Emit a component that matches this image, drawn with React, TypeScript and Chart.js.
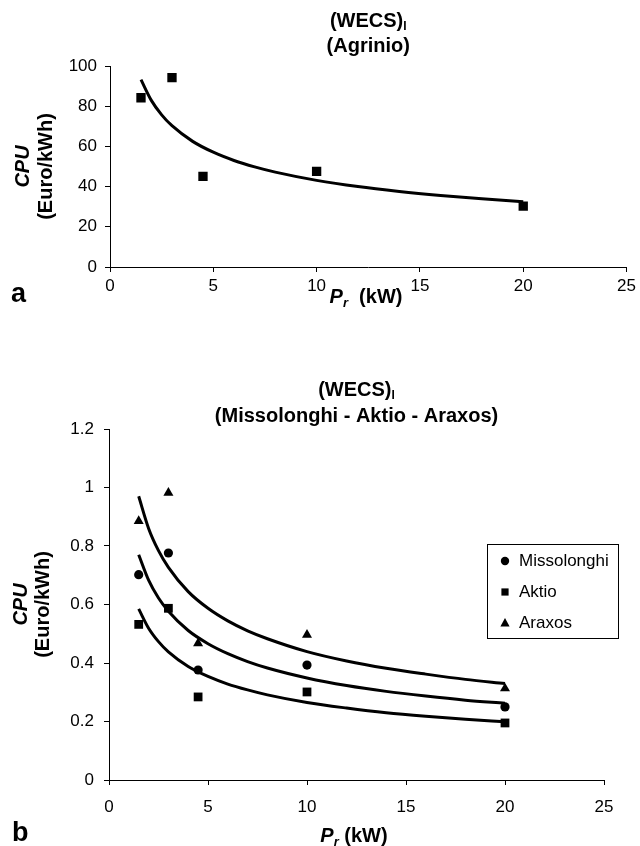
import React, { useEffect, useRef } from 'react';
import { Chart, registerables } from 'chart.js';

Chart.register(...registerables);

// ---------- data ----------
const X_TICKS = [0, 5, 10, 15, 20, 25];
const X_TICK_LABELS = ['0', '5', '10', '15', '20', '25'];
const Y_TICKS_A = [0, 20, 40, 60, 80, 100];
const Y_TICK_LABELS_A = ['0', '20', '40', '60', '80', '100'];
const Y_TICKS_B = [0, 0.2, 0.4, 0.6, 0.8, 1, 1.2];
const Y_TICK_LABELS_B = ['0', '0.2', '0.4', '0.6', '0.8', '1', '1.2'];

const PR_KW = [1.5, 3, 4.5, 10, 20];
const AGRINIO_CPU = [84.2, 94.2, 45.1, 47.6, 30.3];
const MISSOLONGHI_CPU = [0.702, 0.776, 0.376, 0.393, 0.25];
const AKTIO_CPU = [0.532, 0.587, 0.284, 0.301, 0.195];
const ARAXOS_CPU = [0.885, 0.982, 0.467, 0.496, 0.313];

// trend curves
const TREND_X = [1.5, 2, 2.5, 3, 4, 5, 6, 7, 8, 10, 12, 14, 16, 18, 20];
const AGRINIO_TREND = [93.2, 82.9, 75.7, 70.3, 62.5, 57.1, 53.0, 49.8, 47.2, 43.1, 40.0, 37.6, 35.6, 33.9, 32.5];
const ARAXOS_TREND = [0.97, 0.86, 0.784, 0.727, 0.644, 0.587, 0.544, 0.51, 0.483, 0.439, 0.407, 0.382, 0.362, 0.344, 0.33];
const MISSOLONGHI_TREND = [0.77, 0.683, 0.622, 0.577, 0.511, 0.466, 0.432, 0.405, 0.383, 0.349, 0.323, 0.303, 0.287, 0.273, 0.262];
const AKTIO_TREND = [0.585, 0.519, 0.473, 0.438, 0.388, 0.354, 0.328, 0.308, 0.291, 0.265, 0.246, 0.23, 0.218, 0.208, 0.199];

const LEGEND_NAMES = ['Missolonghi', 'Aktio', 'Araxos'];

// ---------- helpers ----------
const FAMILY = "'Liberation Sans', Arial, Helvetica, sans-serif";
const B = (s: number) => `bold ${s}px ${FAMILY}`;
const BI = (s: number) => `italic bold ${s}px ${FAMILY}`;

type Run = { text: string; font: string; dy?: number };

function drawRuns(ctx: CanvasRenderingContext2D, runs: Run[], cx: number, cy: number, align: 'center' | 'left' = 'center') {
  ctx.save();
  ctx.textBaseline = 'middle';
  ctx.textAlign = 'left';
  ctx.fillStyle = '#000';
  let w = 0;
  for (const r of runs) {
    ctx.font = r.font;
    w += ctx.measureText(r.text).width;
  }
  let x = align === 'center' ? cx - w / 2 : cx;
  for (const r of runs) {
    ctx.font = r.font;
    ctx.fillText(r.text, x, cy + (r.dy || 0));
    x += ctx.measureText(r.text).width;
  }
  ctx.restore();
}

function drawRotated(ctx: CanvasRenderingContext2D, runs: Run[], x: number, y: number) {
  ctx.save();
  ctx.translate(x, y);
  ctx.rotate(-Math.PI / 2);
  drawRuns(ctx, runs, 0, 0);
  ctx.restore();
}

const pts = (xs: number[], ys: number[]) => xs.map((x, i) => ({ x, y: ys[i] }));

function markerSet(label: string, ys: number[], style: string, r: number) {
  return {
    label,
    data: pts(PR_KW, ys),
    showLine: false,
    pointStyle: style,
    pointRadius: r,
    pointHoverRadius: r,
    backgroundColor: '#000',
    borderColor: '#000',
    borderWidth: 0,
  };
}

function trendSet(ys: number[]) {
  return {
    label: 'trend',
    data: pts(TREND_X, ys),
    showLine: true,
    pointRadius: 0,
    pointHoverRadius: 0,
    borderColor: '#000',
    borderWidth: 3,
    cubicInterpolationMode: 'monotone' as const,
    fill: false,
  };
}

function axes(yTicks: number[], yLabels: string[], yMax: number, yWidth: number, xHeight: number, yPad: number, xPad: number) {
  const common = {
    grid: { display: true, drawOnChartArea: false, drawTicks: true, tickLength: 5, color: '#000', lineWidth: 1 },
    border: { display: true, color: '#000', width: 1 },
  };
  return {
    x: {
      type: 'linear' as const,
      min: 0,
      max: 25,
      ...common,
      afterBuildTicks: (s: any) => { s.ticks = X_TICKS.map((v) => ({ value: v })); },
      afterFit: (s: any) => { s.height = xHeight; },
      ticks: {
        autoSkip: false,
        maxRotation: 0,
        padding: xPad,
        color: '#000',
        font: { family: FAMILY, size: 17 },
        callback: (_v: any, i: number) => X_TICK_LABELS[i],
      },
    },
    y: {
      type: 'linear' as const,
      min: 0,
      max: yMax,
      ...common,
      afterBuildTicks: (s: any) => { s.ticks = yTicks.map((v) => ({ value: v })); },
      afterFit: (s: any) => { s.width = yWidth; },
      ticks: {
        autoSkip: false,
        padding: yPad,
        color: '#000',
        font: { family: FAMILY, size: 17 },
        callback: (_v: any, i: number) => yLabels[i],
      },
    },
  };
}

function drawMarker(ctx: CanvasRenderingContext2D, style: string, x: number, y: number) {
  ctx.save();
  ctx.fillStyle = '#000';
  ctx.beginPath();
  if (style === 'circle') {
    ctx.arc(x, y, 4.2, 0, Math.PI * 2);
  } else if (style === 'rect') {
    ctx.rect(x - 3.6, y - 3.6, 7.2, 7.2);
  } else {
    ctx.moveTo(x, y - 5);
    ctx.lineTo(x + 4.6, y + 3.4);
    ctx.lineTo(x - 4.6, y + 3.4);
    ctx.closePath();
  }
  ctx.fill();
  ctx.restore();
}

// ---------- component ----------
export default function App() {
  const topRef = useRef<HTMLCanvasElement | null>(null);
  const botRef = useRef<HTMLCanvasElement | null>(null);

  useEffect(() => {
    const topText = {
      id: 'topText',
      afterDraw(chart: any) {
        const ctx = chart.ctx as CanvasRenderingContext2D;
        const ca = chart.chartArea;
        const cx = (ca.left + ca.right) / 2;
        const cy = (ca.top + ca.bottom) / 2;
        drawRuns(ctx, [{ text: '(WECS)', font: B(20) }, { text: 'I', font: B(12), dy: 6 }], cx, 21);
        drawRuns(ctx, [{ text: '(Agrinio)', font: B(20) }], cx, 46);
        drawRotated(ctx, [{ text: 'CPU', font: BI(20) }], 23, cy);
        drawRotated(ctx, [{ text: '(Euro/kWh)', font: B(20) }], 46, cy);
        drawRuns(ctx, [{ text: 'P', font: BI(20) }, { text: 'r', font: BI(13), dy: 6 }, { text: '  (kW)', font: B(20) }], 366, 297);
        drawRuns(ctx, [{ text: 'a', font: B(27) }], 11, 295, 'left');
      },
    };

    const botText = {
      id: 'botText',
      afterDraw(chart: any) {
        const ctx = chart.ctx as CanvasRenderingContext2D;
        const ca = chart.chartArea;
        const cx = (ca.left + ca.right) / 2;
        const cy = (ca.top + ca.bottom) / 2;
        drawRuns(ctx, [{ text: '(WECS)', font: B(20) }, { text: 'I', font: B(12), dy: 6 }], cx, 60);
        drawRuns(ctx, [{ text: '(Missolonghi - Aktio - Araxos)', font: B(20) }], cx, 86);
        drawRotated(ctx, [{ text: 'CPU', font: BI(20) }], 21, cy);
        drawRotated(ctx, [{ text: '(Euro/kWh)', font: B(20) }], 43, cy);
        drawRuns(ctx, [{ text: 'P', font: BI(20) }, { text: 'r', font: BI(13), dy: 6 }, { text: ' (kW)', font: B(20) }], 354, 506);
        drawRuns(ctx, [{ text: 'b', font: B(27) }], 12, 504, 'left');
        // legend
        ctx.save();
        ctx.strokeStyle = '#000';
        ctx.lineWidth = 1;
        ctx.strokeRect(487.5, 214.5, 131, 94);
        ctx.restore();
        const styles = ['circle', 'rect', 'triangle'];
        const ys = [231, 262, 293];
        LEGEND_NAMES.forEach((name, i) => {
          drawMarker(ctx, styles[i], 505, ys[i]);
          drawRuns(ctx, [{ text: name, font: `17px ${FAMILY}` }], 519, ys[i], 'left');
        });
      },
    };

    const top = new Chart(topRef.current as HTMLCanvasElement, {
      type: 'scatter',
      data: {
        datasets: [
          markerSet('Agrinio', AGRINIO_CPU, 'rect', 6.6) as any,
          trendSet(AGRINIO_TREND) as any,
        ],
      },
      options: {
        responsive: false,
        animation: false,
        devicePixelRatio: 1,
        layout: { padding: { left: 0, top: 66, right: 11, bottom: 0 } },
        plugins: { legend: { display: false }, title: { display: false }, tooltip: { enabled: false } },
        scales: axes(Y_TICKS_A, Y_TICK_LABELS_A, 100, 110, 63, 8, 4) as any,
      },
      plugins: [topText],
    });

    const bot = new Chart(botRef.current as HTMLCanvasElement, {
      type: 'scatter',
      data: {
        datasets: [
          markerSet('Missolonghi', MISSOLONGHI_CPU, 'circle', 4.6) as any,
          markerSet('Aktio', AKTIO_CPU, 'rect', 6.2) as any,
          markerSet('Araxos', ARAXOS_CPU, 'triangle', 5.8) as any,
          trendSet(ARAXOS_TREND) as any,
          trendSet(MISSOLONGHI_TREND) as any,
          trendSet(AKTIO_TREND) as any,
        ],
      },
      options: {
        responsive: false,
        animation: false,
        devicePixelRatio: 1,
        layout: { padding: { left: 0, top: 99, right: 36, bottom: 0 } },
        plugins: { legend: { display: false }, title: { display: false }, tooltip: { enabled: false } },
        scales: axes(Y_TICKS_B, Y_TICK_LABELS_B, 1.2, 109, 66, 10, 12) as any,
      },
      plugins: [botText],
    });

    return () => {
      top.destroy();
      bot.destroy();
    };
  }, []);

  return (
    <div style={{ position: 'absolute', left: 0, top: 0, width: 640, height: 846, background: '#fff' }}>
      <canvas ref={topRef} width={640} height={330} style={{ position: 'absolute', left: 0, top: 0, width: 640, height: 330 }} />
      <canvas ref={botRef} width={640} height={516} style={{ position: 'absolute', left: 0, top: 330, width: 640, height: 516 }} />
    </div>
  );
}
